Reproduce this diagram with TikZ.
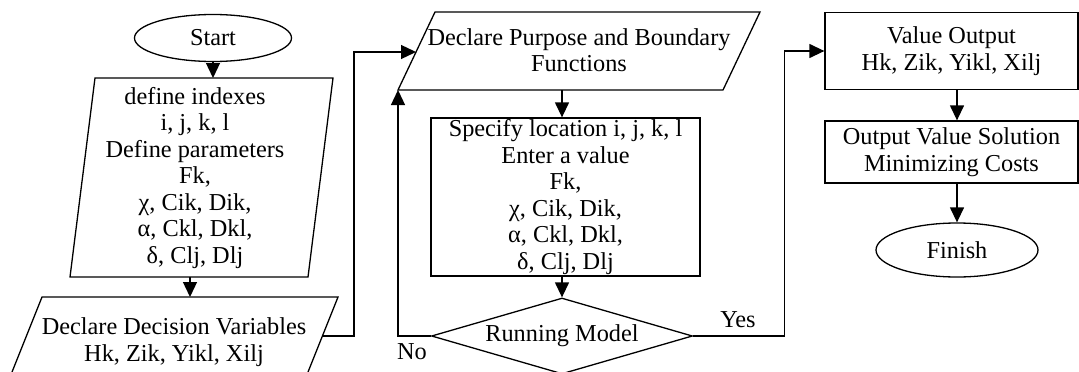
\documentclass[tikz,border=0pt]{standalone}
\usepackage{fontspec}
\setmainfont{Liberation Serif}
\usetikzlibrary{shapes.geometric,arrows.meta}
\begin{document}
\begin{tikzpicture}[x=1pt,y=-1pt,
  line width=1.3pt,
  label text/.style={font=\fontsize{24.3}{26.5}\selectfont, align=center, inner sep=0pt},
  term/.style={ellipse, draw, label text},
  procbox/.style={rectangle, draw, label text},
  decide/.style={diamond, draw, label text, aspect=3.43},
  flow/.style={-{Triangle[length=15pt,width=14pt]}},
]
\clip (0,0) rectangle (1079,372);

% terminals
\node[term, minimum width=157pt, minimum height=47pt] (start) at (213,38) {Start};
\node[term, minimum width=162pt, minimum height=54pt] (fin) at (957,250) {Finish};

% input parallelogram: indexes and parameters
\coordinate (p1a) at (95,78);
\coordinate (p1b) at (333,78);
\coordinate (p1c) at (308,277);
\coordinate (p1d) at (70,277);
\draw (p1a) -- (p1b) -- (p1c) -- (p1d) -- cycle;
\node[label text] (define) at (195,178) {define indexes\\ i, j, k, l\\ Define parameters\\ Fk,\\ χ, Cik, Dik,\\ α, Ckl, Dkl,\\ δ, Clj, Dlj};
\coordinate (p1out) at (190,277);

% input parallelogram: decision variables
\coordinate (p2a) at (42,297);
\coordinate (p2b) at (338,297);
\coordinate (p2c) at (306.8,375);
\coordinate (p2d) at (10.8,375);
\draw (p2a) -- (p2b) -- (p2c) -- (p2d) -- cycle;
\node[label text] (decvar) at (174,342) {Declare Decision Variables\\ Hk, Zik, Yikl, Xilj};
\coordinate (p2out) at (322.4,336);

% input parallelogram: objective and constraints
\coordinate (p3a) at (435,12);
\coordinate (p3b) at (760,12);
\coordinate (p3c) at (723,90);
\coordinate (p3d) at (398,90);
\draw (p3a) -- (p3b) -- (p3c) -- (p3d) -- cycle;
\node[label text] (purpose) at (579,50) {Declare Purpose and Boundary\\ Functions};
\coordinate (p3in) at (416,52);
\coordinate (p3out) at (562,90);

% process and decision
\node[procbox, minimum width=269pt, minimum height=158pt] (spec) at (565.5,197) {Specify location i, j, k, l\\ Enter a value\\ Fk,\\ χ, Cik, Dik,\\ α, Ckl, Dkl,\\ δ, Clj, Dlj};
\node[decide, minimum width=261pt, minimum height=76pt] (run) at (562,336) {Running Model};

% outputs
\node[procbox, minimum width=253pt, minimum height=77pt] (vo) at (951.5,51) {Value Output\\ Hk, Zik, Yikl, Xilj};
\node[procbox, minimum width=253pt, minimum height=62pt] (ovs) at (951.5,152) {Output Value Solution\\ Minimizing Costs};

% branch labels
\node[label text] (no) at (412,352) {No};
\node[label text] (yes) at (738,320) {Yes};

% connectors
\draw[flow] (start.south) -- (start.south |- p1a);
\draw[flow] (p1out) -- (p1out |- p2a);
\draw[flow] (p2out) -- ++(31.6,0) |- (p3in);
\draw[flow] (p3out) -- (p3out |- spec.north);
\draw[flow] (spec.south -| run.north) -- (run.north);
\draw[flow] (run.west) -| (p3d);
\draw[flow] (run.east) -- ++(91,0) |- (vo.west);
\draw[flow] (vo.south -| fin.north) -- (ovs.north -| fin.north);
\draw[flow] (ovs.south -| fin.north) -- (fin.north);
\end{tikzpicture}
\end{document}
